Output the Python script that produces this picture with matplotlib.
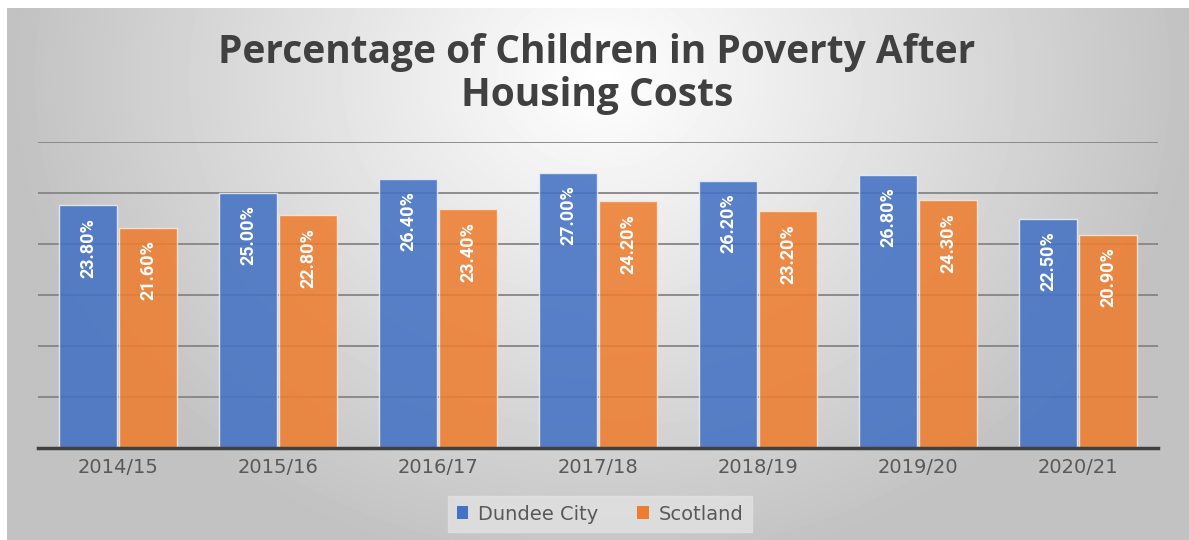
import numpy as np
import matplotlib.pyplot as plt
from matplotlib.patches import Patch

years = ["2014/15", "2015/16", "2016/17", "2017/18", "2018/19", "2019/20", "2020/21"]
dundee = [23.8, 25.0, 26.4, 27.0, 26.2, 26.8, 22.5]
scotland = [21.6, 22.8, 23.4, 24.2, 23.2, 24.3, 20.9]

blue = "#4472C4"
orange = "#ED7D31"

fig = plt.figure(figsize=(11.89, 5.40), dpi=100)
fig.patch.set_facecolor("white")

# radial grey background like the excel chart area
bg = fig.add_axes([7 / 1189, 0, 1 - 7 / 1189, 532 / 540], zorder=0)
h, w = 532, 1182
yy, xx = np.mgrid[0:h, 0:w]
d = np.sqrt(((xx - 595) / 640.0) ** 2 + ((yy - 70) / 540.0) ** 2)
shade = np.clip(1.0 - 0.26 * d, 0.76, 1.0)
bg.imshow(shade, cmap="gray", vmin=0, vmax=1, aspect="auto", interpolation="bilinear")
bg.axis("off")

ax = fig.add_axes([38 / 1189, 92 / 540, 1120 / 1189, 306 / 540], zorder=1)
ax.set_facecolor("none")

x = np.arange(len(years))
bw = 0.36
b1 = ax.bar(x - 0.1875, dundee, bw, color=blue, alpha=0.88, edgecolor="#e8eef8", linewidth=1, zorder=3)
b2 = ax.bar(x + 0.1875, scotland, bw, color=orange, alpha=0.88, edgecolor="#fbe6d8", linewidth=1, zorder=3)

for bars, vals in ((b1, dundee), (b2, scotland)):
    for rect, v in zip(bars, vals):
        ax.annotate(f"{v:.2f}%", (rect.get_x() + rect.get_width() / 2, v),
                    xytext=(0, -9), textcoords="offset points",
                    rotation=90, ha="center", va="top", color="white",
                    fontsize=13, fontweight="bold", family="Roboto", zorder=4)

ax.set_xlim(-0.5, len(years) - 0.5)
ax.set_ylim(0, 30)
ax.set_yticks([5, 10, 15, 20, 25, 30])
ax.yaxis.grid(True, color="#858585", linewidth=1.3, zorder=2)
ax.set_yticklabels([])
ax.tick_params(axis="y", length=0)
ax.set_xticks(x)
ax.set_xticklabels(years, fontsize=14, color="#595959", family="DejaVu Sans")
ax.tick_params(axis="x", length=0, pad=7)
for s in ["top", "right", "left"]:
    ax.spines[s].set_visible(False)
ax.spines["bottom"].set_color("#404040")
ax.spines["bottom"].set_linewidth(2.5)
ax.spines["bottom"].set_zorder(5)

fig.text(0.502, 1 - 74 / 540, "Percentage of Children in Poverty After\nHousing Costs",
         ha="center", va="center", fontsize=28, fontweight="bold", color="#404040",
         family="Open Sans", linespacing=1.15)

handles = [Patch(facecolor=blue, label="Dundee City"), Patch(facecolor=orange, label="Scotland")]
leg = fig.legend(handles=handles, loc="center", bbox_to_anchor=(600 / 1189, 1 - 514 / 540),
                 ncol=2, frameon=True, fontsize=14, handlelength=0.6, handleheight=0.6,
                 handletextpad=0.5, columnspacing=2.0, borderpad=0.45, fancybox=False)
leg.get_frame().set_facecolor("#e2e2e2")
leg.get_frame().set_edgecolor("#e2e2e2")
for t in leg.get_texts():
    t.set_color("#595959")
    t.set_family("DejaVu Sans")

fig.savefig("out.png", dpi=100)
